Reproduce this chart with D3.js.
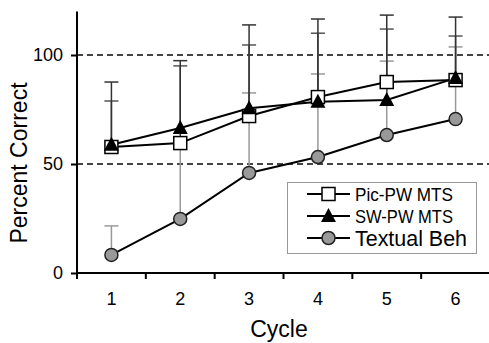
<!DOCTYPE html>
<html><head><meta charset="utf-8">
<script src="https://cdn.jsdelivr.net/npm/d3@7"></script>
<style>body{margin:0;background:#fff}svg{display:block}text{font-family:"Liberation Sans",Arial,sans-serif}</style>
</head><body><svg id="c" width="489" height="343"></svg>
<script>
const cycles = ["1","2","3","4","5","6"];
const yTicks = [0, 50, 100];
const refLines = [50, 100];
const picPW = [57.8, 59.6, 72, 80.7, 87.6, 88.5];
const swPW = [58.8, 66.5, 75.6, 78.5, 79.4, 89.4];
const textual = [8.3, 24.8, 45.9, 53.2, 63.3, 70.6];
const picPWErrTop = [87.6, 97.4, 113.8, 116.5, 118.3, 117.4];
const swPWErrTop = [78.9, 95.0, 104.6, 110.0, 111.9, 108.7];
const textualErrTop = [21.6, 61, 82.6, 91.3, 97.2, 103.7];
const seriesNames = ["Pic-PW MTS", "SW-PW MTS", "Textual Beh"];

const svg = d3.select("#c");
const x = d3.scaleBand().domain(cycles).range([77, 490]);
const y = d3.scaleLinear().domain([0, 120]).range([273, 11.4]);

svg.selectAll(".ref").data(refLines).enter().append("line")
  .attr("x1", 77).attr("x2", 489).attr("y1", d => y(d)).attr("y2", d => y(d))
  .attr("stroke", "#444").attr("stroke-width", 2.2).attr("stroke-dasharray", "6,4");

const series = [
  {name: seriesNames[0], vals: picPW, err: picPWErrTop, errColor: "#333", shape: "square"},
  {name: seriesNames[1], vals: swPW, err: swPWErrTop, errColor: "#555", shape: "triangle"},
  {name: seriesNames[2], vals: textual, err: textualErrTop, errColor: "#999", shape: "circle"}
];
const cx = c => x(c) + x.bandwidth() / 2;

[2, 1, 0].forEach(si => {
  const s = series[si];
  const g = svg.append("g").attr("stroke", s.errColor).attr("stroke-width", 1.5);
  cycles.forEach((c, i) => {
    g.append("line").attr("x1", cx(c)).attr("x2", cx(c)).attr("y1", y(s.vals[i])).attr("y2", y(s.err[i]));
    g.append("line").attr("x1", cx(c) - 7).attr("x2", cx(c) + 7).attr("y1", y(s.err[i])).attr("y2", y(s.err[i]));
  });
});

const yAxis = svg.append("g").attr("transform", "translate(77,0)")
  .call(d3.axisLeft(y).tickValues(yTicks).tickSize(6).tickPadding(8));
yAxis.select(".domain").attr("d", `M0,${y(120)}V${y(0)}`);
const xAxis = svg.append("g").attr("transform", `translate(0,${y(0)})`)
  .call(d3.axisBottom(x).tickSize(0).tickPadding(19));
xAxis.select(".domain").remove();
svg.append("line").attr("x1", 76).attr("x2", 489).attr("y1", y(0)).attr("y2", y(0)).attr("stroke", "#000").attr("stroke-width", 2);
svg.selectAll(".xt").data(d3.range(cycles.length + 1)).enter().append("line")
  .attr("x1", i => 77 + i * x.step()).attr("x2", i => 77 + i * x.step())
  .attr("y1", y(0)).attr("y2", y(0) + 6).attr("stroke", "#000").attr("stroke-width", 2);
[yAxis, xAxis].forEach(a => {
  a.selectAll("path,line").attr("stroke", "#000").attr("stroke-width", 2);
  a.selectAll("text").attr("font-size", 18).attr("fill", "#000").style("font-family", "Liberation Sans, Arial, sans-serif");
});

function marker(g, shape, px, py) {
  if (shape === "square") g.append("rect").attr("x", px - 6.5).attr("y", py - 6.5).attr("width", 13).attr("height", 13).attr("fill", "#fff").attr("stroke", "#000").attr("stroke-width", 1.5);
  else if (shape === "triangle") g.append("path").attr("d", `M${px},${py - 8}L${px + 7.5},${py + 6}L${px - 7.5},${py + 6}Z`).attr("fill", "#000");
  else g.append("circle").attr("cx", px).attr("cy", py).attr("r", 6.5).attr("fill", "#999").attr("stroke", "#222").attr("stroke-width", 1.5);
}
const line = d3.line().x((d, i) => cx(cycles[i])).y(d => y(d));
series.forEach(s => {
  svg.append("path").attr("d", line(s.vals)).attr("fill", "none").attr("stroke", "#000").attr("stroke-width", 2);
});
[2, 0, 1].forEach(si => {
  const s = series[si];
  const g = svg.append("g");
  s.vals.forEach((v, i) => marker(g, s.shape, cx(cycles[i]), y(v)));
});

svg.append("text").attr("transform", "translate(27,163) rotate(-90)").attr("text-anchor", "middle")
  .attr("font-size", 23).attr("fill", "#000").text("Percent Correct");
svg.append("text").attr("x", 279).attr("y", 337).attr("text-anchor", "middle")
  .attr("font-size", 23).attr("fill", "#000").text("Cycle");

const lg = svg.append("g");
lg.append("rect").attr("x", 287.5).attr("y", 182.5).attr("width", 189).attr("height", 71).attr("fill", "#fff").attr("stroke", "#999").attr("stroke-width", 1);
const rows = [194, 216, 238];
series.forEach((s, i) => {
  lg.append("line").attr("x1", 307).attr("x2", 350).attr("y1", rows[i]).attr("y2", rows[i]).attr("stroke", "#000").attr("stroke-width", 2);
  marker(lg, s.shape, 328.5, rows[i]);
  lg.append("text").attr("x", 355).attr("y", rows[i]).attr("dy", "0.36em")
    .attr("font-size", i === 2 ? 21.5 : 18.5).attr("textLength", i === 2 ? 112 : 98).attr("lengthAdjust", "spacingAndGlyphs")
    .attr("fill", "#000").text(s.name);
});
</script></body></html>
